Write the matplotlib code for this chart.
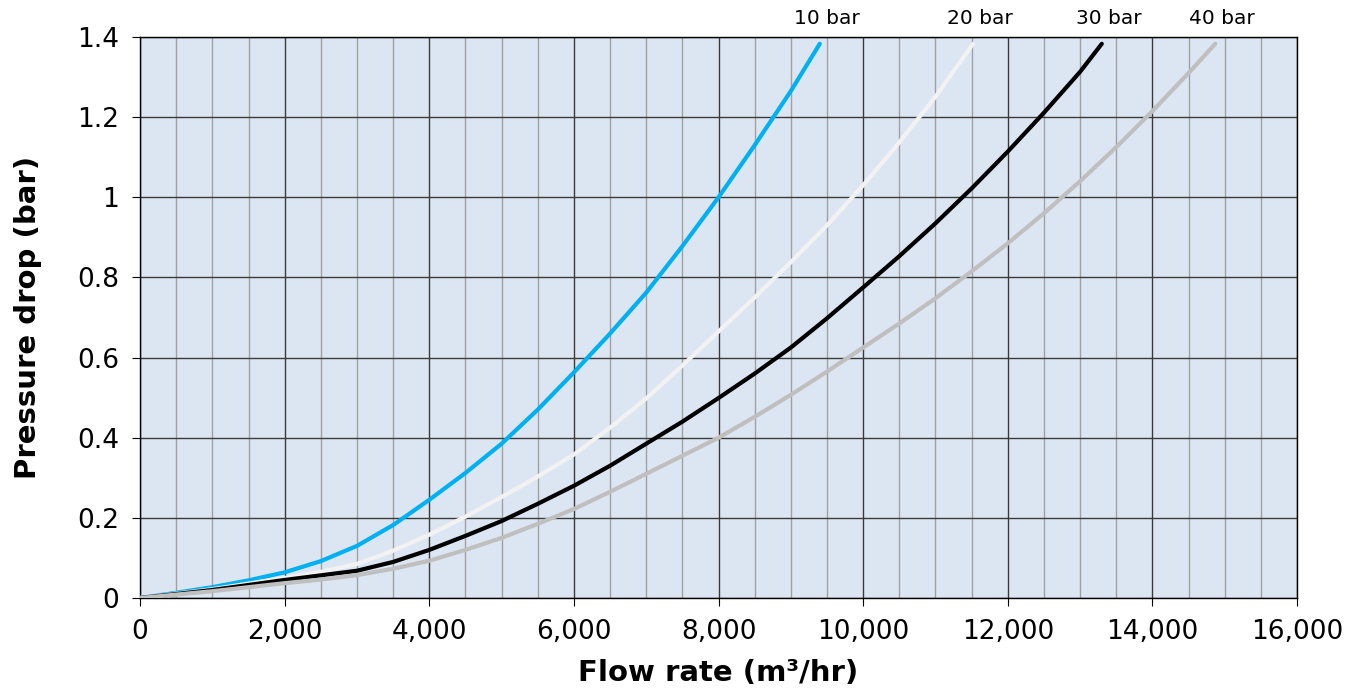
import matplotlib.pyplot as plt
import numpy as np
from matplotlib.ticker import FuncFormatter, MultipleLocator

# values
labels = ['10 bar', '20 bar', '30 bar', '40 bar']
colors = ['#00b0f0', '#f2f2f2', '#000000', '#bfbfbf']

flow_10 = [0, 500, 1000, 1500, 2000, 2500, 3000, 3500, 4000, 4500, 5000, 5500,
           6000, 6500, 7000, 7500, 8000, 8500, 9000, 9400]
dp_10 = [0, 0.013, 0.027, 0.044, 0.064, 0.092, 0.13, 0.182, 0.245, 0.312, 0.385, 0.47,
         0.563, 0.66, 0.762, 0.878, 1.0, 1.13, 1.265, 1.383]

flow_20 = [0, 1000, 2000, 2500, 3000, 3500, 4000, 4500, 5000, 5500, 6000, 6500,
           7000, 7500, 8000, 8500, 9000, 9500, 10000, 10500, 11000, 11520]
dp_20 = [0, 0.022, 0.05, 0.065, 0.085, 0.118, 0.158, 0.203, 0.252, 0.303, 0.358, 0.425,
         0.498, 0.58, 0.665, 0.75, 0.838, 0.93, 1.03, 1.137, 1.251, 1.383]

flow_30 = [0, 1000, 2000, 3000, 3500, 4000, 4500, 5000, 5500, 6000, 6500, 7000, 7500,
           8000, 8500, 9000, 9500, 10000, 10500, 11000, 11500, 12000, 12500, 13000, 13300]
dp_30 = [0, 0.02, 0.045, 0.068, 0.09, 0.12, 0.155, 0.192, 0.235, 0.28, 0.33, 0.385, 0.44,
         0.499, 0.56, 0.625, 0.698, 0.775, 0.853, 0.935, 1.022, 1.114, 1.211, 1.313, 1.383]

flow_40 = [0, 1000, 2000, 2500, 3000, 3500, 4000, 4500, 5000, 5500, 6000, 6500, 7000,
           7500, 8000, 8500, 9000, 9500, 10000, 10500, 11000, 11500, 12000, 12500, 13000,
           13500, 14000, 14500, 14870]
dp_40 = [0, 0.017, 0.037, 0.046, 0.057, 0.073, 0.093, 0.12, 0.15, 0.185, 0.222, 0.265,
         0.31, 0.355, 0.40, 0.452, 0.507, 0.565, 0.625, 0.685, 0.748, 0.815, 0.885, 0.96,
         1.04, 1.125, 1.215, 1.31, 1.383]

series = [(flow_10, dp_10), (flow_20, dp_20), (flow_30, dp_30), (flow_40, dp_40)]

fig = plt.figure(figsize=(13.61, 6.91), dpi=100)
ax = fig.add_axes([0.1029, 0.1346, 0.8501, 0.8119])
ax.set_facecolor('#dce6f2')

for (x, y), c, lab in zip(series, colors, labels):
    ax.plot(x, y, color=c, linewidth=3, solid_capstyle='round',
            solid_joinstyle='round', zorder=3)
    ax.annotate(lab, (x[-1], y[-1]), xytext=(5, 18), textcoords='offset points',
                ha='center', va='center', fontsize=14.5, annotation_clip=False)

ax.set_xlim(0, 16000)
ax.set_ylim(0, 1.4)
ax.xaxis.set_major_locator(MultipleLocator(2000))
ax.xaxis.set_minor_locator(MultipleLocator(500))
ax.yaxis.set_major_locator(MultipleLocator(0.2))
ax.xaxis.set_major_formatter(FuncFormatter(lambda v, p: f'{v:,.0f}'))
ax.yaxis.set_major_formatter(FuncFormatter(lambda v, p: f'{round(v, 1):g}'))

ax.grid(True, which='major', color='#3a3a3a', linewidth=1.0, zorder=1)
ax.grid(True, which='minor', axis='x', color='#a0a0a0', linewidth=1.0, zorder=1)
ax.set_axisbelow(True)
ax.tick_params(which='major', length=6, width=0.8, pad=9, labelsize=19, direction='out')
ax.tick_params(which='minor', length=0)
for s in ax.spines.values():
    s.set_color('black')
    s.set_linewidth(1.0)

ax.set_xlabel('Flow rate (m³/hr)', fontsize=21, fontweight='bold', labelpad=10)
ax.set_ylabel('Pressure drop (bar)', fontsize=21, fontweight='bold', labelpad=25)

fig.savefig('out.png', dpi=100)
